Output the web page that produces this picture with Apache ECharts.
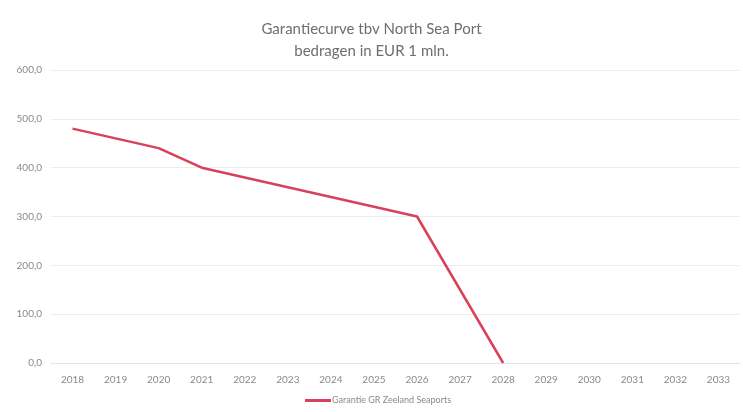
<!DOCTYPE html>
<html>
<head>
<meta charset="utf-8">
<script src="https://cdn.jsdelivr.net/npm/echarts@6/dist/echarts.min.js"></script>
<style>
  html, body { margin: 0; padding: 0; background: #fff; }
  #chart { width: 743px; height: 412px; }
</style>
</head>
<body>
<div id="chart"></div>
<script>
const years = ["2018", "2019", "2020", "2021", "2022", "2023", "2024", "2025",
  "2026", "2027", "2028", "2029", "2030", "2031", "2032", "2033"];
const garantie = [480, 460, 440, 400, 380, 360, 340, 320, 300, 150, 0,
  null, null, null, null, null];
const seriesName = "Garantie GR Zeeland Seaports";

const chart = echarts.init(document.getElementById("chart"));
const font = "Lato, 'Open Sans', sans-serif";
const option = {
  backgroundColor: "#fff",
  textStyle: { fontFamily: font },
  title: {
    text: "Garantiecurve tbv North Sea Port\nbedragen in EUR 1 mln.",
    left: "center",
    top: 13,
    textStyle: {
      fontFamily: font,
      fontSize: 15,
      fontWeight: "normal",
      color: "#6e6e6e",
      lineHeight: 22
    }
  },
  grid: {
    left: 51,
    right: 3,
    top: 70,
    bottom: 49
  },
  legend: {
    data: [seriesName],
    bottom: 2,
    left: 300,
    itemWidth: 26,
    itemHeight: 3,
    itemGap: 0,
    icon: "rect",
    textStyle: { fontFamily: font, fontSize: 9, color: "#8a8a8a", padding: [0, 0, 0, -4] }
  },
  xAxis: {
    type: "category",
    data: years,
    boundaryGap: true,
    axisLine: { lineStyle: { color: "#e4e4e4" } },
    axisTick: { show: false },
    axisLabel: { color: "#8a8a8a", fontSize: 10, margin: 12 }
  },
  yAxis: {
    type: "value",
    min: 0,
    max: 600,
    interval: 100,
    axisLine: { show: false },
    axisTick: { show: false },
    axisLabel: {
      color: "#8a8a8a",
      fontSize: 10,
      margin: 9,
      formatter: v => v.toFixed(1).replace(".", ",")
    },
    splitLine: { lineStyle: { color: "#ececec" } }
  },
  series: [
    {
      name: seriesName,
      type: "line",
      data: garantie,
      symbol: "none",
      connectNulls: false,
      itemStyle: { color: "#d9415a" },
      lineStyle: { color: "#d9415a", width: 2.5 },
      animation: false
    }
  ]
};
chart.setOption(option);
</script>
</body>
</html>
